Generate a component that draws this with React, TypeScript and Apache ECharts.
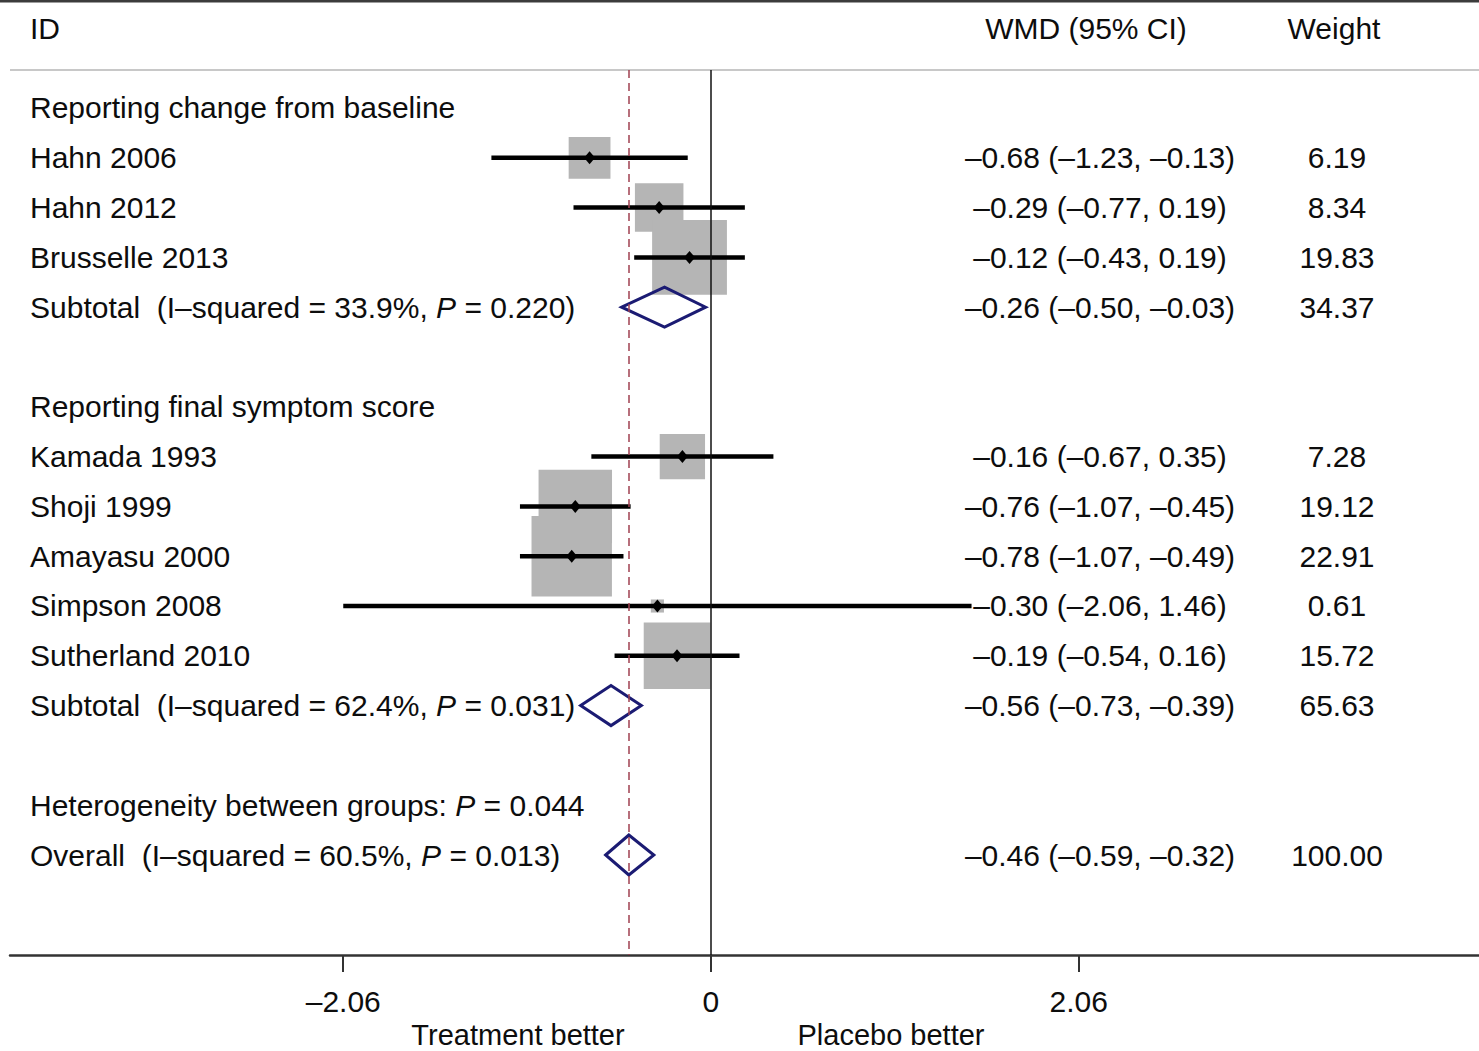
import React, { useEffect, useRef } from 'react';
import * as echarts from 'echarts';

// ---------- data ----------
const studyNames = ['Hahn 2006', 'Hahn 2012', 'Brusselle 2013', 'Kamada 1993', 'Shoji 1999', 'Amayasu 2000', 'Simpson 2008', 'Sutherland 2010'];
const studyRows = [1, 2, 3, 7, 8, 9, 10, 11];
const studyWMD = [-0.68, -0.29, -0.12, -0.16, -0.76, -0.78, -0.30, -0.19];
const studyLower = [-1.23, -0.77, -0.43, -0.67, -1.07, -1.07, -2.06, -0.54];
const studyUpper = [-0.13, 0.19, 0.19, 0.35, -0.45, -0.49, 1.46, 0.16];
const studyWeight = [6.19, 8.34, 19.83, 7.28, 19.12, 22.91, 0.61, 15.72];

const pooledLabels = [
  'Subtotal  (I\u2013squared = 33.9%, {i|P} = 0.220)',
  'Subtotal  (I\u2013squared = 62.4%, {i|P} = 0.031)',
  'Overall  (I\u2013squared = 60.5%, {i|P} = 0.013)',
];
const pooledRows = [4, 12, 15];
const pooledWMD = [-0.26, -0.56, -0.46];
const pooledLower = [-0.50, -0.73, -0.59];
const pooledUpper = [-0.03, -0.39, -0.32];
const pooledWeight = [34.37, 65.63, 100.0];

const groupHeaders = ['Reporting change from baseline', 'Reporting final symptom score', 'Heterogeneity between groups: {i|P} = 0.044'];
const groupHeaderRows = [0, 6, 14];

const columnHeaders = ['ID', 'WMD (95% CI)', 'Weight'];
const xTicks = [-2.06, 0, 2.06];
const overallEffect = -0.46;
const sideLabels = ['Treatment better', 'Placebo better'];

// ---------- layout constants ----------
const W = 1479;
const H = 1051;
const FONT = '"Liberation Sans", Arial, Helvetica, sans-serif';
const FS = 30;
const TEXT_COLOR = '#0d0d0d';
const X_MIN = -3.927;
const X_MAX = 4.303;
const Y_MIN = -0.763;
const Y_MAX = 17.008;
const BOX_K = 16.8;
const NAVY = '#1b1b73';

const fmt = (v: number) => (v < 0 ? '\u2013' : '') + Math.abs(v).toFixed(2);
const fmtCI = (e: number, l: number, u: number) => `${fmt(e)} (${fmt(l)}, ${fmt(u)})`;

type Row = { row: number; label: string; ci: string; weight: string };
const tableRows: Row[] = [];
groupHeaders.forEach((g, i) => tableRows.push({ row: groupHeaderRows[i], label: g, ci: '', weight: '' }));
studyNames.forEach((n, i) =>
  tableRows.push({ row: studyRows[i], label: n, ci: fmtCI(studyWMD[i], studyLower[i], studyUpper[i]), weight: studyWeight[i].toFixed(2) })
);
pooledLabels.forEach((n, i) =>
  tableRows.push({ row: pooledRows[i], label: n, ci: fmtCI(pooledWMD[i], pooledLower[i], pooledUpper[i]), weight: pooledWeight[i].toFixed(2) })
);

const richItalic = { i: { fontStyle: 'italic', fontSize: FS, fontFamily: FONT, fill: TEXT_COLOR } };

export default function App() {
  const ref = useRef<HTMLDivElement>(null);
  useEffect(() => {
    if (!ref.current) return;
    const chart = echarts.init(ref.current, undefined, { renderer: 'svg' });

    const studyData = studyNames.map((_, i) => [studyWMD[i], studyRows[i], studyLower[i], studyUpper[i], studyWeight[i]]);
    const pooledData = pooledRows.map((r, i) => [pooledWMD[i], r, pooledLower[i], pooledUpper[i]]);
    const textData = tableRows.map((r) => [0, r.row]);

    const bottomText = (text: string, x: number) => ({
      type: 'text',
      x,
      y: 1035,
      style: { text, fontSize: 29, fontFamily: FONT, fill: TEXT_COLOR, align: 'center', verticalAlign: 'middle' },
    });

    const option: any = {
      animation: false,
      backgroundColor: '#fff',
      grid: { left: 10, right: 0, top: 70, bottom: H - 955, containLabel: false },
      xAxis: {
        type: 'value',
        min: X_MIN,
        max: X_MAX,
        position: 'bottom',
        axisLine: { show: true, onZero: false, lineStyle: { color: '#333', width: 2.5 } },
        axisTick: { show: true, customValues: xTicks, length: 17, lineStyle: { color: '#333', width: 2 } },
        axisLabel: {
          show: true,
          customValues: xTicks,
          formatter: (v: number) => (v === 0 ? '0' : fmt(v)),
          fontSize: FS,
          fontFamily: FONT,
          color: TEXT_COLOR,
          margin: 31,
        },
        splitLine: { show: false },
      },
      yAxis: { type: 'value', min: Y_MIN, max: Y_MAX, inverse: true, show: false },
      graphic: [
        { type: 'rect', left: 0, top: 0, shape: { x: 0, y: 0, width: W, height: 2.5 }, style: { fill: '#3c3c3c' } },
        { type: 'line', shape: { x1: 10, y1: 70, x2: W, y2: 70 }, style: { stroke: '#c8c8c8', lineWidth: 2 } },
        { type: 'text', x: 30, y: 28, style: { text: columnHeaders[0], fontSize: FS, fontFamily: FONT, fill: TEXT_COLOR, align: 'left', verticalAlign: 'middle' } },
        { type: 'text', x: 1086, y: 28, style: { text: columnHeaders[1], fontSize: FS, fontFamily: FONT, fill: TEXT_COLOR, align: 'center', verticalAlign: 'middle' } },
        { type: 'text', x: 1334, y: 28, style: { text: columnHeaders[2], fontSize: FS, fontFamily: FONT, fill: TEXT_COLOR, align: 'center', verticalAlign: 'middle' } },
        bottomText(sideLabels[0], 518),
        bottomText(sideLabels[1], 891),
      ],
      series: [
        {
          type: 'scatter',
          data: [],
          z: 1,
          silent: true,
          markLine: {
            silent: true,
            symbol: ['none', 'none'],
            label: { show: false },
            data: [
              { xAxis: 0, lineStyle: { color: '#111', width: 1.5, type: 'solid' } },
              { xAxis: overallEffect, lineStyle: { color: '#a04050', width: 1.5, type: [8, 5] } },
            ],
          },
        },
        {
          type: 'custom',
          z: 2,
          silent: true,
          data: studyData,
          renderItem: (params: any, api: any) => {
            const c = api.coord([api.value(0), api.value(1)]);
            const side = BOX_K * Math.sqrt(api.value(4));
            return { type: 'rect', shape: { x: c[0] - side / 2, y: c[1] - side / 2, width: side, height: side }, style: { fill: '#b5b5b5' } };
          },
        },
        {
          type: 'custom',
          z: 3,
          silent: true,
          data: studyData,
          renderItem: (params: any, api: any) => {
            const row = api.value(1);
            const c = api.coord([api.value(0), row]);
            const l = api.coord([api.value(2), row]);
            const u = api.coord([api.value(3), row]);
            return {
              type: 'group',
              children: [
                { type: 'line', shape: { x1: l[0], y1: l[1], x2: u[0], y2: u[1] }, style: { stroke: '#000', lineWidth: 4.5 } },
                {
                  type: 'polygon',
                  shape: { points: [[c[0] - 5.5, c[1]], [c[0], c[1] - 6.5], [c[0] + 5.5, c[1]], [c[0], c[1] + 6.5]] },
                  style: { fill: '#000' },
                },
              ],
            };
          },
        },
        {
          type: 'custom',
          z: 4,
          silent: true,
          data: pooledData,
          renderItem: (params: any, api: any) => {
            const row = api.value(1);
            const c = api.coord([api.value(0), row]);
            const l = api.coord([api.value(2), row]);
            const u = api.coord([api.value(3), row]);
            const hh = 20;
            return {
              type: 'polygon',
              shape: { points: [[l[0], c[1]], [c[0], c[1] - hh], [u[0], c[1]], [c[0], c[1] + hh]] },
              style: { fill: 'none', stroke: NAVY, lineWidth: 3, lineJoin: 'miter' },
            };
          },
        },
        {
          type: 'custom',
          z: 5,
          silent: true,
          data: textData,
          renderItem: (params: any, api: any) => {
            const r = tableRows[params.dataIndex];
            const y = api.coord([0, api.value(1)])[1];
            const base = { fontSize: FS, fontFamily: FONT, fill: TEXT_COLOR, verticalAlign: 'middle' };
            const children: any[] = [
              { type: 'text', x: 30, y, style: { ...base, text: r.label, align: 'left', rich: richItalic } },
            ];
            if (r.ci) children.push({ type: 'text', x: 1100, y, style: { ...base, text: r.ci, align: 'center' } });
            if (r.weight) children.push({ type: 'text', x: 1337, y, style: { ...base, text: r.weight, align: 'center' } });
            return { type: 'group', children };
          },
        },
      ],
    };
    chart.setOption(option);
    return () => chart.dispose();
  }, []);
  return <div ref={ref} style={{ position: 'fixed', left: 0, top: 0, width: W, height: H, background: '#fff' }} />;
}
